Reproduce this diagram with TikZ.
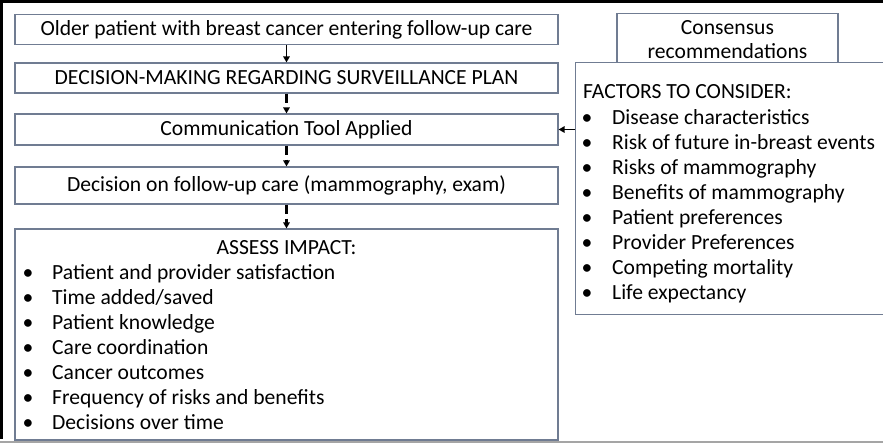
\documentclass[tikz,border=0pt]{standalone}
\usepackage{fontspec}
\setmainfont{Carlito}
\usetikzlibrary{arrows.meta}
\definecolor{boxline}{RGB}{112,124,146}
\definecolor{framegray}{RGB}{165,165,165}

\begin{document}
\begin{tikzpicture}[x=1pt,y=-1pt,>={Triangle[length=6pt,width=6.5pt]},
  font=\fontsize{21.6}{25}\selectfont,
  flowbox/.style={draw=boxline,line width=1.2pt,fill=white,minimum width=543pt,inner sep=0pt},
  sidebox/.style={draw=boxline,line width=1.2pt,fill=white,inner sep=0pt},
  bul/.style={anchor=base,inner sep=0pt},
  itemtext/.style={anchor=base west,inner sep=0pt},
  solidarrow/.style={->,line width=1.6pt},
  dasharrow/.style={->,line width=2.4pt,dash pattern=on 9pt off 5pt}]
\useasboundingbox (0,0) rectangle (883,444);
\clip (0,0) rectangle (883,444);
\draw[line width=3pt] (0,1.5) -- (883,1.5);
\draw[line width=3pt] (1.5,0) -- (1.5,439);
\draw[framegray,line width=2pt] (0,442) -- (883,442);

\node[flowbox,minimum height=30pt] (older) at (286.5,29.5) {Older patient with breast cancer entering follow-up care};
\node[flowbox,minimum height=30pt] (plan) at (286.5,78) {DECISION-MAKING REGARDING SURVEILLANCE PLAN};
\node[flowbox,minimum height=31pt] (comm) at (286.5,129.5) {Communication Tool Applied};
\node[flowbox,minimum height=37pt] (followup) at (286.5,185.5) {Decision on follow-up care (mammography, exam)};
\node[flowbox,minimum height=211pt] (impact) at (286.5,334.5) {};
\node[anchor=base,inner sep=0pt] (impacthead) at (286.5,254) {ASSESS IMPACT:};
\foreach \txt [count=\i from 0] in {Patient and provider satisfaction,Time added/saved,Patient knowledge,Care coordination,Cancer outcomes,Frequency of risks and benefits,Decisions over time}{
  \node[bul] (impb\i) at (28,279+25.1*\i) {•};
  \node[itemtext] (imp\i) at (52,279+25.1*\i) {\txt};
}

\node[sidebox,minimum width=221pt,minimum height=60pt,anchor=north] (consensus) at (727.5,13) {};
\node[anchor=base,inner sep=0pt] (cons1) at (727.5,35) {Consensus};
\node[anchor=base,inner sep=0pt] (cons2) at (727.5,59) {recommendations};
\node[sidebox,minimum width=320pt,minimum height=252pt,anchor=north west] (factors) at (575,62) {};
\node[itemtext] (factorshead) at (583,99) {FACTORS TO CONSIDER:};
\foreach \txt [count=\i from 1] in {Disease characteristics,Risk of future in-breast events,Risks of mammography,Benefits of mammography,Patient preferences,Provider Preferences,Competing mortality,Life expectancy}{
  \node[bul] (facb\i) at (587,99+25.1*\i) {•};
  \node[itemtext] (fac\i) at (612,99+25.1*\i) {\txt};
}

\draw[solidarrow] (older) -- (plan);
\draw[dasharrow] (plan) -- (comm);
\draw[dasharrow] (comm) -- (followup);
\draw[dasharrow] (followup) -- (impact);
\draw[solidarrow] (factors.west |- comm.east) -- (comm.east);
\end{tikzpicture}
\end{document}
